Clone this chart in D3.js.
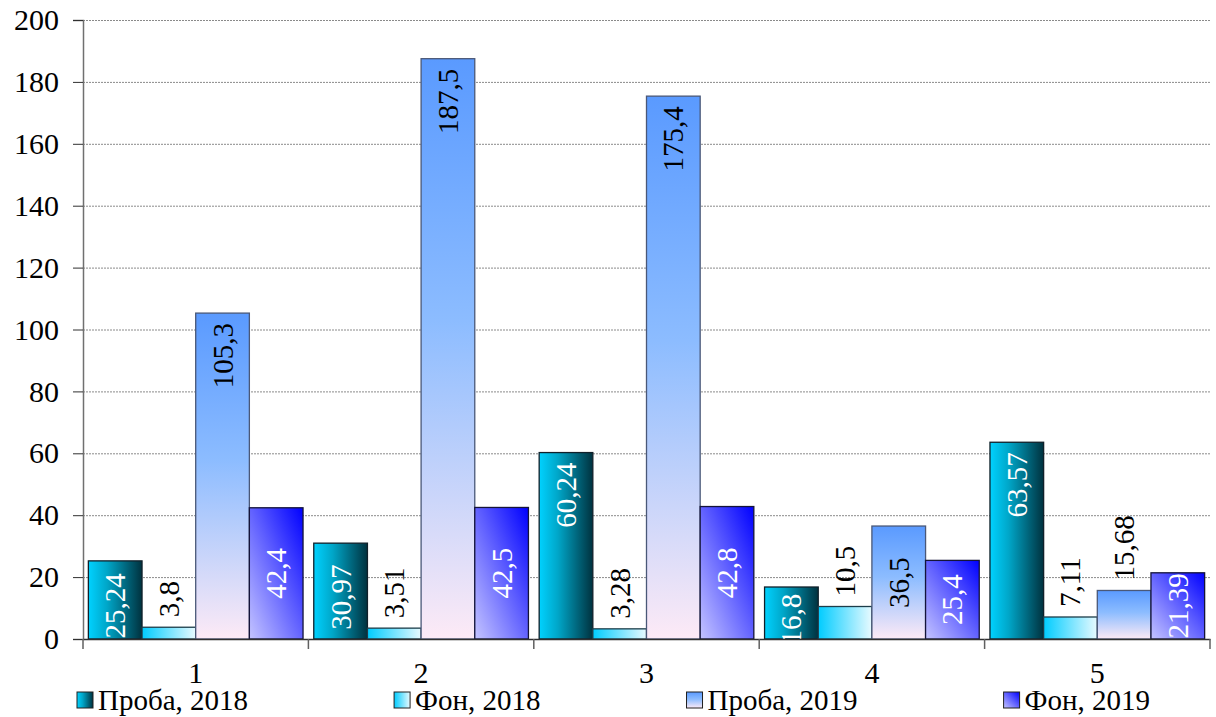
<!DOCTYPE html>
<html><head><meta charset="utf-8">
<script src="https://cdn.jsdelivr.net/npm/d3@7"></script>
<style>
html,body{margin:0;padding:0;background:#fff;}
svg text{font-family:"Liberation Serif","Times New Roman",Times,"DejaVu Serif","Noto Serif",serif !important;}
</style></head>
<body>
<svg id="chart" width="1216" height="717"></svg>
<script>
const categories = ["1","2","3","4","5"];
const seriesNames = ["Проба, 2018","Фон, 2018","Проба, 2019","Фон, 2019"];
const proba2018 = [25.24, 30.97, 60.24, 16.8, 63.57];
const fon2018   = [3.8, 3.51, 3.28, 10.5, 7.11];
const proba2019 = [105.3, 187.5, 175.4, 36.5, 15.68];
const fon2019   = [42.4, 42.5, 42.8, 25.4, 21.39];
const yTicks = [0,20,40,60,80,100,120,140,160,180,200];

const FONT = "Liberation Serif, Times New Roman, Times, DejaVu Serif, serif";
const seriesValues = [proba2018, fon2018, proba2019, fon2019];
const seriesIds = ["g0","g1","g2","g3"];
const labelColor = ["#fff","#000","#000","#fff"];
const strokeColor = ["#10202a","#1d3d4a","#4a5878","#14143a"];

const svg = d3.select("#chart").attr("font-family", FONT);
svg.append("rect").attr("width",1216).attr("height",717).attr("fill","#fff");

const pLeft=83, pRight=1210, pTop=20, pBottom=639;
const y = d3.scaleLinear().domain([0,200]).range([pBottom, pTop]);
const x0 = d3.scaleBand().domain(categories).range([pLeft,pRight]).paddingInner(0).paddingOuter(0);
const x1 = d3.scaleBand().domain(seriesNames).range([0, x0.bandwidth()]).paddingInner(0).paddingOuter(0.1);

// gradients
const defs = svg.append("defs");
function grad(id, ax, ay, bx, by, stops){
  const g = defs.append("linearGradient").attr("id",id)
    .attr("x1",ax).attr("y1",ay).attr("x2",bx).attr("y2",by);
  stops.forEach(s=>g.append("stop").attr("offset",s[0]).attr("stop-color",s[1]));
}
grad("g0",0,0,1,0,[[0,"#00d2ff"],[0.35,"#00a6c8"],[1,"#00323f"]]);
grad("g1",0,0,1,0,[[0,"#00ccff"],[1,"#e8faff"]]);
grad("g2",0,0,0,1,[[0,"#5a9aff"],[0.45,"#8cbcff"],[1,"#fdeaf6"]]);
grad("g3",0,1,1,0,[[0,"#c4c4ff"],[0.55,"#5a5aff"],[1,"#0000ff"]]);
defs.append("clipPath").attr("id","plotclip").append("rect")
  .attr("x",pLeft).attr("y",pTop-40).attr("width",pRight-pLeft).attr("height",pBottom-pTop+40);

// gridlines
svg.append("g").selectAll("line").data(yTicks.filter(t=>t>0)).join("line")
  .attr("x1",pLeft).attr("x2",pRight).attr("y1",d=>y(d)+0.5).attr("y2",d=>y(d)+0.5)
  .attr("stroke","#8a8a8a").attr("stroke-width",1).attr("stroke-dasharray","2,1");

// bars
const data = [];
categories.forEach((c,i)=>seriesNames.forEach((s,j)=>data.push({c, s, j, v: seriesValues[j][i]})));
const bars = svg.append("g");
bars.selectAll("rect").data(data).join("rect")
  .attr("x",d=>x0(d.c)+x1(d.s))
  .attr("y",d=>y(d.v))
  .attr("width",x1.bandwidth())
  .attr("height",d=>y(0)-y(d.v))
  .attr("fill",d=>`url(#${seriesIds[d.j]})`)
  .attr("stroke",d=>strokeColor[d.j]).attr("stroke-width",1.3);

// labels
const lg = svg.append("g").attr("clip-path","url(#plotclip)");
lg.selectAll("text").data(data).join("text")
  .text(d=>String(d.v).replace(".",","))
  .attr("font-size",29)
  .attr("font-family",FONT)
  .attr("dominant-baseline","central")
  .each(function(d){
    const t = d3.select(this);
    const len = this.getComputedTextLength();
    const h = y(0)-y(d.v);
    const cx = x0(d.c)+x1(d.s)+x1.bandwidth()/2;
    let py, anchor, col = labelColor[d.j];
    if (h < 0.85*len){ py = y(d.v)-10; anchor="start"; col="#000"; }
    else if (h < 150){ py = (y(d.v)+y(0))/2 + (d.j===0 ? 6 : 0); anchor="middle"; }
    else { py = y(d.v)+10; anchor="end"; }
    t.attr("text-anchor",anchor).attr("fill",col)
     .attr("transform",`translate(${cx},${py}) rotate(-90)`);
  });

// y axis
const yAxis = svg.append("g").attr("transform",`translate(${pLeft},0)`)
  .call(d3.axisLeft(y).tickValues(yTicks).tickSize(10).tickPadding(14).tickFormat(d3.format("d")));
yAxis.attr("font-family",FONT);
yAxis.select(".domain").attr("stroke","#707070").attr("stroke-width",1.5);
yAxis.selectAll(".tick line").attr("stroke","#303030");
yAxis.selectAll("text").attr("font-size",30).attr("fill","#000");

// x axis
const xAxis = svg.append("g").attr("transform",`translate(0,${pBottom})`)
  .call(d3.axisBottom(x0).tickSize(0).tickPadding(23));
xAxis.attr("font-family",FONT);
xAxis.select(".domain").attr("stroke","#303030").attr("stroke-width",1.5);
xAxis.selectAll("text").attr("font-size",30).attr("fill","#000");
const bounds = categories.map(c=>x0(c)).concat([pRight]);
svg.append("g").selectAll("line").data(bounds).join("line")
  .attr("x1",d=>d).attr("x2",d=>d).attr("y1",pBottom).attr("y2",pBottom+10)
  .attr("stroke","#606060").attr("stroke-width",1.5);

// legend
const legend = svg.append("g");
let lx = 77;
seriesNames.forEach((s,j)=>{
  const g = legend.append("g").attr("transform",`translate(${lx},0)`);
  g.append("rect").attr("x",0).attr("y",692).attr("width",16).attr("height",16)
    .attr("fill",`url(#${seriesIds[j]})`).attr("stroke","#202020").attr("stroke-width",1);
  const t = g.append("text").attr("x",21).attr("y",710).attr("font-size",29)
    .attr("font-family",FONT).attr("fill","#000").text(s);
  const w = 21 + t.node().getComputedTextLength();
  lx += w + 146;
});
</script>
</body></html>
